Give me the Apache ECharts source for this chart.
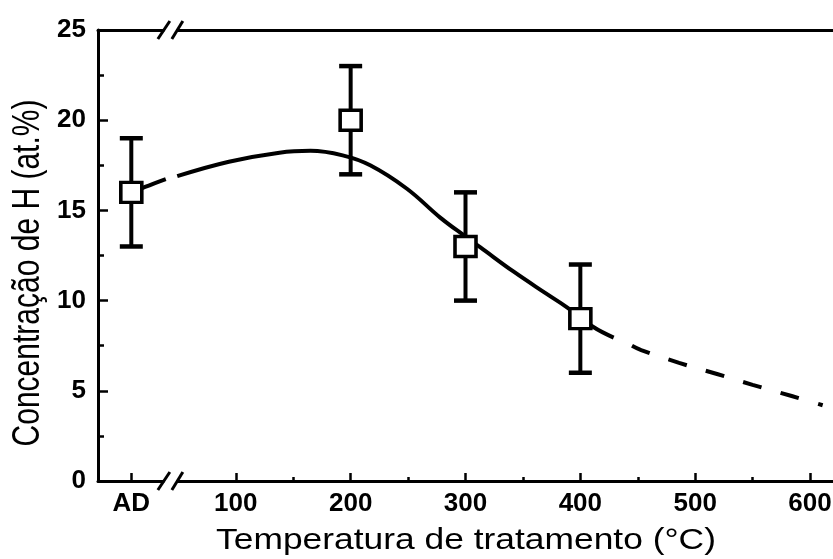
<!DOCTYPE html>
<html>
<head>
<meta charset="utf-8">
<script src="https://cdn.jsdelivr.net/npm/echarts@6/dist/echarts.min.js"></script>
<style>
  html, body { margin: 0; padding: 0; background: #fff; }
  #chart { width: 833px; height: 559px; }
</style>
</head>
<body>
<div id="chart"></div>
<script>
// pontos medidos
const pointX = [9, 200, 300, 400]
const pointH = [16, 20, 13, 9]
const errLow = [13, 17, 10, 6]
const errHigh = [19, 23, 16, 12]

// rótulos do eixo x
const tickValues = [9, 100, 200, 300, 400, 500, 600]
const tickLabels = ['AD', '100', '200', '300', '400', '500', '600']
const minorTickValues = [150, 250, 350, 450, 550]
const breakAt = 43

// curva ajustada (trecho inicial, trecho contínuo, extrapolação tracejada)
const fitLeftX = [9, 21, 39]
const fitLeftY = [15.95, 16.3, 16.74]
const fitX = [49, 94, 138, 165, 193, 217, 249, 278, 300, 313, 342, 370, 389, 411, 429]
const fitY = [16.9, 17.7, 18.2, 18.3, 18.05, 17.5, 16.2, 14.6, 13.55, 12.95, 11.6, 10.4, 9.6, 8.55, 7.95]
const extX = [445, 453, 486, 519, 550, 584, 611]
const extY = [7.5, 7.26, 6.55, 5.93, 5.33, 4.71, 4.2]

const zip = (xs, ys) => xs.map((x, i) => [x, ys[i]])
const labelMap = {}
tickValues.forEach((v, i) => { labelMap[v] = tickLabels[i] })

const chart = echarts.init(document.getElementById('chart'))

const tickFont = {
  color: '#000',
  fontFamily: 'Liberation Sans',
  fontWeight: 'bold',
  fontSize: 26
}

const option = {
  animation: false,
  grid: { left: 98, top: 30, right: 0, bottom: 78, containLabel: false, outerBoundsMode: 'none' },
  xAxis: [
    {
      type: 'value',
      min: -20,
      max: 620,
      splitLine: { show: false },
      axisLine: { onZero: false, lineStyle: { color: '#000', width: 3 } },
      axisTick: {
        inside: true,
        length: 8,
        customValues: tickValues,
        lineStyle: { color: '#000', width: 2.5 }
      },
      axisLabel: {
        ...tickFont,
        margin: 10,
        customValues: tickValues,
        formatter: (v) => labelMap[v] ?? ''
      }
    },
    {
      // ticks menores
      type: 'value',
      min: -20,
      max: 620,
      position: 'bottom',
      splitLine: { show: false },
      axisLine: { show: false, onZero: false },
      axisLabel: { show: false },
      axisTick: {
        inside: true,
        length: 4,
        customValues: minorTickValues,
        lineStyle: { color: '#000', width: 2.5 }
      }
    },
    {
      // borda superior
      type: 'value',
      min: -20,
      max: 620,
      position: 'top',
      splitLine: { show: false },
      axisLine: { onZero: false, lineStyle: { color: '#000', width: 3 } },
      axisLabel: { show: false },
      axisTick: { show: false }
    }
  ],
  yAxis: {
    type: 'value',
    min: 0,
    max: 25,
    interval: 5,
    splitLine: { show: false },
    axisLine: { show: true, onZero: false, lineStyle: { color: '#000', width: 3 } },
    axisTick: { inside: true, length: 10, lineStyle: { color: '#000', width: 2.5 } },
    minorTick: { show: true, splitNumber: 2, length: 6, lineStyle: { color: '#000', width: 2.5 } },
    axisLabel: { ...tickFont, margin: 12 }
  },
  series: [
    {
      type: 'line',
      data: zip(fitLeftX, fitLeftY),
      smooth: 0.4,
      showSymbol: false,
      z: 2,
      lineStyle: { color: '#000', width: 4 }
    },
    {
      type: 'line',
      data: zip(fitX, fitY),
      smooth: 0.4,
      showSymbol: false,
      z: 2,
      lineStyle: { color: '#000', width: 4 }
    },
    {
      type: 'line',
      data: zip(extX, extY),
      smooth: 0.4,
      showSymbol: false,
      z: 2,
      lineStyle: { color: '#000', width: 4, type: [19, 20], cap: 'butt' }
    },
    {
      // barras de erro
      type: 'custom',
      z: 3,
      data: pointX.map((x, i) => [x, errLow[i], errHigh[i]]),
      renderItem: (params, api) => {
        const lo = api.coord([api.value(0), api.value(1)])
        const hi = api.coord([api.value(0), api.value(2)])
        const hw = 11.5
        const style = { stroke: '#000', lineWidth: 4 }
        return {
          type: 'group',
          children: [
            { type: 'line', shape: { x1: lo[0], y1: lo[1], x2: hi[0], y2: hi[1] }, style },
            { type: 'line', shape: { x1: lo[0] - hw, y1: lo[1], x2: lo[0] + hw, y2: lo[1] }, style: { ...style, lineWidth: 4.5 } },
            { type: 'line', shape: { x1: hi[0] - hw, y1: hi[1], x2: hi[0] + hw, y2: hi[1] }, style: { ...style, lineWidth: 4.5 } }
          ]
        }
      }
    },
    {
      type: 'scatter',
      z: 4,
      data: zip(pointX, pointH),
      symbol: 'rect',
      symbolSize: [21, 20],
      itemStyle: { color: '#fff', borderColor: '#000', borderWidth: 3.5, opacity: 1 }
    }
  ]
}

chart.setOption(option)

// marcas de quebra do eixo e títulos
const bx = chart.convertToPixel({ xAxisIndex: 0 }, breakAt)
const yBottom = chart.convertToPixel({ yAxisIndex: 0 }, 0)
const yTop = chart.convertToPixel({ yAxisIndex: 0 }, 25)

const breakMark = (y) => [
  { type: 'rect', shape: { x: bx - 6, y: y - 3, width: 12, height: 6 }, style: { fill: '#fff' }, z: 10 },
  { type: 'line', shape: { x1: bx - 12.5, y1: y + 9, x2: bx - 0.5, y2: y - 9 }, style: { stroke: '#000', lineWidth: 3 }, z: 11 },
  { type: 'line', shape: { x1: bx + 1.5, y1: y + 9, x2: bx + 12.5, y2: y - 9 }, style: { stroke: '#000', lineWidth: 3 }, z: 11 }
]

chart.setOption({
  graphic: [
    ...breakMark(yBottom),
    ...breakMark(yTop),
    {
      type: 'text',
      x: 466,
      y: 541,
      scaleX: 1.22,
      style: {
        text: 'Temperatura de tratamento (°C)',
        fontFamily: 'Liberation Sans',
        fontSize: 29,
        fill: '#000',
        textAlign: 'center',
        textVerticalAlign: 'middle'
      }
    },
    {
      type: 'text',
      x: 28,
      y: 273,
      rotation: Math.PI / 2,
      scaleY: 1.3,
      style: {
        text: 'Concentração de H (at.%)',
        fontFamily: 'Liberation Sans',
        fontSize: 30,
        fill: '#000',
        textAlign: 'center',
        textVerticalAlign: 'middle'
      }
    }
  ]
})
</script>
</body>
</html>
